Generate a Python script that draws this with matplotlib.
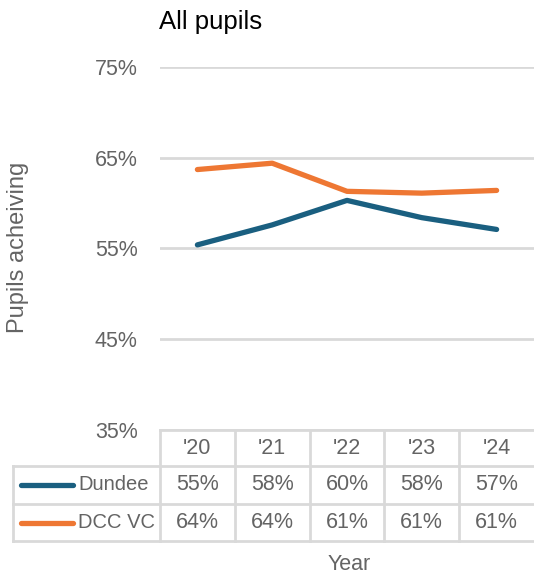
import matplotlib
matplotlib.use("Agg")
import matplotlib.pyplot as plt
from matplotlib.lines import Line2D

years = ["'20", "'21", "'22", "'23", "'24"]
dundee = [55.4, 57.6, 60.3, 58.4, 57.1]
dcc_vc = [63.7, 64.4, 61.3, 61.1, 61.4]
series_names = ["Dundee", "DCC VC"]
series_colors = ["#1a5f80", "#ee7733"]
yticks = [35, 45, 55, 65, 75]

plt.rcParams['font.family'] = ['Liberation Sans', 'DejaVu Sans']
W, H = 534, 577
fig = plt.figure(figsize=(W / 100, H / 100), dpi=100)
FS = 15.5
TC = '#646464'

def fx(px):
    return px / W

def fy(py):
    return 1 - py / H

ax_l, ax_r, ax_t, ax_b = 160, 534, 67, 430
ax = fig.add_axes([fx(ax_l), fy(ax_b), fx(ax_r - ax_l), fy(ax_t) - fy(ax_b)])
x = list(range(len(years)))
for vals, c in zip([dundee, dcc_vc], series_colors):
    ax.plot(x, vals, color=c, lw=3.8, solid_capstyle='round', solid_joinstyle='round', zorder=3)
ax.set_xlim(-0.5, len(years) - 0.5)
ax.set_ylim(35, 75)
ax.set_yticks(yticks)
ax.set_yticklabels([f"{t}%" for t in yticks], color=TC, fontsize=FS)
ax.tick_params(axis='y', length=0, pad=16)
ax.set_xticks([])
ax.grid(axis='y', color='#d9d9d9', lw=2)
for s in ax.spines.values():
    s.set_visible(False)

# title and labels
fig.text(fx(159), fy(22), "All pupils", fontsize=18.5, color='black', va='center', ha='left')
fig.text(fx(18), fy(247), "Pupils acheiving", fontsize=17, color=TC, rotation=90,
         va='center', ha='center')
fig.text(fx(349), fy(565), "Year", fontsize=FS, color=TC, va='center', ha='center')

# data table
gc = '#d9d9d9'
lw = 2
col_w = (ax_r - ax_l) / len(years)
row_edges = [430, 466, 504, 541]
left_edge = 13

def hline(y, x0, x1):
    fig.add_artist(Line2D([fx(x0), fx(x1)], [fy(y), fy(y)], color=gc, lw=lw))

def vline(xp, y0, y1):
    fig.add_artist(Line2D([fx(xp), fx(xp)], [fy(y0), fy(y1)], color=gc, lw=lw))

hline(row_edges[0], ax_l, ax_r)
for y in row_edges[1:]:
    hline(y, left_edge, ax_r)
vline(left_edge, row_edges[1], row_edges[3])
for i in range(len(years)):
    vline(ax_l + i * col_w, row_edges[0], row_edges[3])

for i, yr in enumerate(years):
    cx = ax_l + (i + 0.5) * col_w
    fig.text(fx(cx), fy((row_edges[0] + row_edges[1]) / 2), yr, fontsize=FS,
             color=TC, ha='center', va='center')

for r, (name, vals, c) in enumerate(zip(series_names, [dundee, dcc_vc], series_colors)):
    cy = (row_edges[r + 1] + row_edges[r + 2]) / 2
    fig.add_artist(Line2D([fx(21), fx(73)], [fy(cy), fy(cy)], color=c, lw=3.8,
                          solid_capstyle='round'))
    fig.text(fx(78), fy(cy), name, fontsize=14.5, color=TC, ha='left', va='center')
    for i, v in enumerate(vals):
        cx = ax_l + (i + 0.5) * col_w
        fig.text(fx(cx), fy(cy), f"{round(v):.0f}%", fontsize=FS, color=TC,
                 ha='center', va='center')

fig.savefig("out.png", dpi=100)
